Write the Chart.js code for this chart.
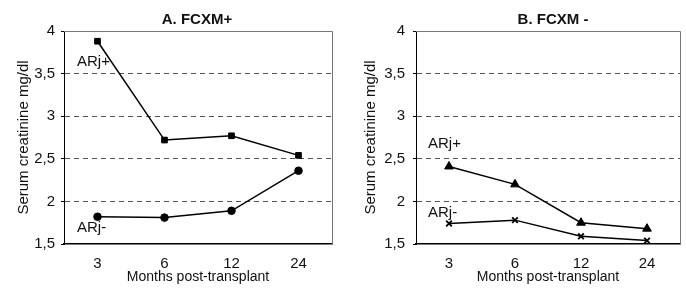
<!DOCTYPE html>
<html>
<head>
<meta charset="utf-8">
<script src="https://cdn.jsdelivr.net/npm/chart.js@4.4.1/dist/chart.umd.min.js"></script>
<style>
  html, body { margin: 0; padding: 0; background: #fff; }
  .wrap { position: relative; width: 686px; height: 292px; }
  canvas { position: absolute; top: 0; }
</style>
</head>
<body>
<div class="wrap">
  <canvas id="chartA" width="343" height="292" style="left:0"></canvas>
  <canvas id="chartB" width="343" height="292" style="left:343px"></canvas>
</div>
<script>
const months = ['3', '6', '12', '24'];
const yTicks = [1.5, 2, 2.5, 3, 3.5, 4];

// A. FCXM+
const fcxmPosARjPos = [3.88, 2.72, 2.77, 2.54];
const fcxmPosARjNeg = [1.82, 1.81, 1.89, 2.36];

// B. FCXM -
const fcxmNegARjPos = [2.41, 2.20, 1.75, 1.68];
const fcxmNegARjNeg = [1.74, 1.78, 1.59, 1.54];

const font = 'Liberation Sans, Arial, sans-serif';

// panel title + frame + in-plot series labels
const panelDecor = {
    id: 'panelDecor',
    beforeDatasetsDraw(chart, args, opts) {
        const { ctx, chartArea: a } = chart;
        ctx.save();
        ctx.strokeStyle = '#777';
        ctx.lineWidth = 1;
        ctx.beginPath();
        ctx.moveTo(a.left, a.top + 0.5);
        ctx.lineTo(a.right + 0.5, a.top + 0.5);
        ctx.lineTo(a.right + 0.5, a.bottom);
        ctx.stroke();
        ctx.restore();
    },
    afterDraw(chart, args, opts) {
        const { ctx, chartArea: a, scales } = chart;
        ctx.save();
        ctx.fillStyle = '#111';
        ctx.font = `bold 15px ${font}`;
        ctx.textAlign = 'center';
        ctx.textBaseline = 'middle';
        ctx.fillText(opts.title, (a.left + a.right) / 2 + opts.titleDx, 20);

        ctx.font = `15px ${font}`;
        ctx.textAlign = 'left';
        for (const lab of opts.labels) {
            const x = scales.x.getPixelForValue(0) + lab.dx;
            const y = scales.y.getPixelForValue(lab.y);
            ctx.fillText(lab.text, x, y);
        }
        ctx.restore();
    }
};

function makeChart(id, cfg) {
    const line = (data, style, radius) => ({
        data,
        borderColor: '#000',
        backgroundColor: '#000',
        borderWidth: 1.5,
        pointStyle: style,
        pointRadius: radius,
        pointBorderWidth: style === 'crossRot' ? 1.8 : 1,
        pointBorderColor: '#000',
        pointBackgroundColor: '#000',
        tension: 0
    });

    return new Chart(document.getElementById(id), {
        type: 'line',
        data: {
            labels: months,
            datasets: [
                line(cfg.plus, cfg.plusStyle, cfg.plusRadius),
                line(cfg.minus, cfg.minusStyle, cfg.minusRadius)
            ]
        },
        options: {
            responsive: false,
            animation: false,
            devicePixelRatio: 1,
            layout: { padding: { top: 31, right: cfg.padRight, left: 0, bottom: 0 } },
            plugins: {
                legend: { display: false },
                tooltip: { enabled: false },
                panelDecor: { title: cfg.title, titleDx: cfg.titleDx, labels: cfg.labels }
            },
            scales: {
                x: {
                    offset: true,
                    grid: { display: false, drawTicks: false },
                    border: { display: true, color: '#000', width: 1.5 },
                    ticks: { color: '#111', font: { family: font, size: 15 }, padding: 11 },
                    title: {
                        display: true,
                        text: 'Months post-transplant',
                        color: '#111',
                        font: { family: font, size: 14 },
                        padding: { top: 0, bottom: 6 }
                    },
                    afterFit: s => { s.height = 48; }
                },
                y: {
                    min: 1.5,
                    max: 4,
                    afterBuildTicks: s => { s.ticks = yTicks.map(v => ({ value: v })); },
                    grid: {
                        color: c => (c.tick && (c.tick.value === 1.5 || c.tick.value === 4)) ? 'rgba(0,0,0,0)' : '#555',
                        lineWidth: 1,
                        drawTicks: true,
                        tickLength: 3,
                        tickColor: '#000'
                    },
                    border: { display: true, color: '#000', width: 1, dash: [5, 4], dashOffset: 0 },
                    ticks: {
                        color: '#111',
                        font: { family: font, size: 15 },
                        padding: cfg.tickPad,
                        callback: v => String(v).replace('.', ',')
                    },
                    title: {
                        display: true,
                        text: 'Serum creatinine mg/dl',
                        color: '#111',
                        font: { family: font, size: 15 },
                        padding: { top: cfg.titlePad, bottom: 0 }
                    },
                    afterFit: s => { s.width = cfg.yWidth; }
                }
            }
        },
        plugins: [panelDecor]
    });
}

Chart.defaults.font.family = font;

makeChart('chartA', {
    title: 'A. FCXM+', titleDx: -1,
    plus: fcxmPosARjPos, plusStyle: 'rect', plusRadius: 4,
    minus: fcxmPosARjNeg, minusStyle: 'circle', minusRadius: 3.8,
    padRight: 11, yWidth: 64, tickPad: 6, titlePad: 15,
    labels: [
        { text: 'ARj+', dx: -20.5, y: 3.64 },
        { text: 'ARj-', dx: -20.5, y: 1.69 }
    ]
});

makeChart('chartB', {
    title: 'B. FCXM -', titleDx: 5,
    plus: fcxmNegARjPos, plusStyle: 'triangle', plusRadius: 5,
    minus: fcxmNegARjNeg, minusStyle: 'crossRot', minusRadius: 4,
    padRight: 3, yWidth: 73, tickPad: 8, titlePad: 19,
    labels: [
        { text: 'ARj+', dx: -21, y: 2.68 },
        { text: 'ARj-', dx: -21, y: 1.87 }
    ]
});
</script>
</body>
</html>
